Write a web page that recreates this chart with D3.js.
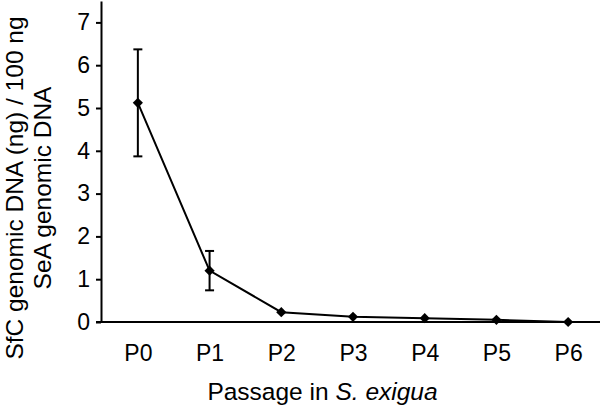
<!DOCTYPE html>
<html>
<head>
<meta charset="utf-8">
<script src="https://cdn.jsdelivr.net/npm/d3@7"></script>
<style>
  body { margin: 0; background: #fff; }
  text { font-family: "Liberation Sans", Arial, sans-serif; fill: #000; }
</style>
</head>
<body>
<svg width="600" height="406"></svg>
<script>
var passages = ['P0', 'P1', 'P2', 'P3', 'P4', 'P5', 'P6'];
var means = [5.12, 1.2, 0.23, 0.12, 0.09, 0.05, 0.0];
var errors = [1.25, 0.46, 0, 0, 0, 0, 0];
var yTicks = [0, 1, 2, 3, 4, 5, 6, 7];

var svg = d3.select('svg');

var x = d3.scalePoint().domain(passages).range([102, 604]).padding(0.5);
var y = d3.scaleLinear().domain([0, 7.5]).range([322, 1]);

// y axis
var yAxis = svg.append('g')
  .attr('transform', 'translate(101,0)')
  .call(d3.axisLeft(y).tickValues(yTicks).tickSize(5).tickPadding(6).tickSizeOuter(0));
yAxis.select('.domain').attr('stroke', '#000').attr('stroke-width', 2);
yAxis.selectAll('.tick line').attr('stroke', '#000').attr('stroke-width', 2);
yAxis.selectAll('.tick text').attr('font-size', 23).attr('font-family', 'Liberation Sans, Arial, sans-serif');

// x axis
var xAxis = svg.append('g')
  .attr('transform', 'translate(0,322)')
  .call(d3.axisBottom(x).tickSize(0).tickPadding(23));
xAxis.select('.domain').attr('d', 'M96,0H600').attr('stroke', '#000').attr('stroke-width', 2);
xAxis.selectAll('.tick text').attr('font-size', 23).attr('font-family', 'Liberation Sans, Arial, sans-serif');

var data = passages.map(function(p, i) { return { p: p, v: means[i], e: errors[i] }; });

// error bars
var eb = svg.append('g').selectAll('g').data(data.filter(function(d) { return d.e > 0; })).enter().append('g');
eb.append('line')
  .attr('x1', function(d) { return x(d.p); }).attr('x2', function(d) { return x(d.p); })
  .attr('y1', function(d) { return y(d.v + d.e); }).attr('y2', function(d) { return y(d.v - d.e); })
  .attr('stroke', '#000').attr('stroke-width', 2);
[1, -1].forEach(function(s) {
  eb.append('line')
    .attr('x1', function(d) { return x(d.p) - 4.5; }).attr('x2', function(d) { return x(d.p) + 4.5; })
    .attr('y1', function(d) { return y(d.v + s * d.e); }).attr('y2', function(d) { return y(d.v + s * d.e); })
    .attr('stroke', '#000').attr('stroke-width', 2);
});

// line
var line = d3.line().x(function(d) { return x(d.p); }).y(function(d) { return y(d.v); });
svg.append('path').datum(data)
  .attr('d', line).attr('fill', 'none').attr('stroke', '#000').attr('stroke-width', 2);

// markers (diamonds)
svg.append('g').selectAll('path').data(data).enter().append('path')
  .attr('d', d3.symbol().type(d3.symbolSquare).size(52))
  .attr('transform', function(d) { return 'translate(' + x(d.p) + ',' + y(d.v) + ') rotate(45)'; })
  .attr('fill', '#000');

// axis titles
var yt = svg.append('text')
  .attr('transform', 'translate(23,188) rotate(-90)')
  .attr('text-anchor', 'middle').attr('font-size', 24.5);
yt.append('tspan').attr('x', 0).attr('y', 0).text('SfC genomic DNA (ng) / 100 ng');
yt.append('tspan').attr('x', 0).attr('y', 28).text('SeA genomic DNA');

var xt = svg.append('text')
  .attr('x', 322.5).attr('y', 400)
  .attr('text-anchor', 'middle').attr('font-size', 24.5);
xt.append('tspan').text('Passage in ');
xt.append('tspan').attr('font-style', 'italic').text('S. exigua');
</script>
</body>
</html>
